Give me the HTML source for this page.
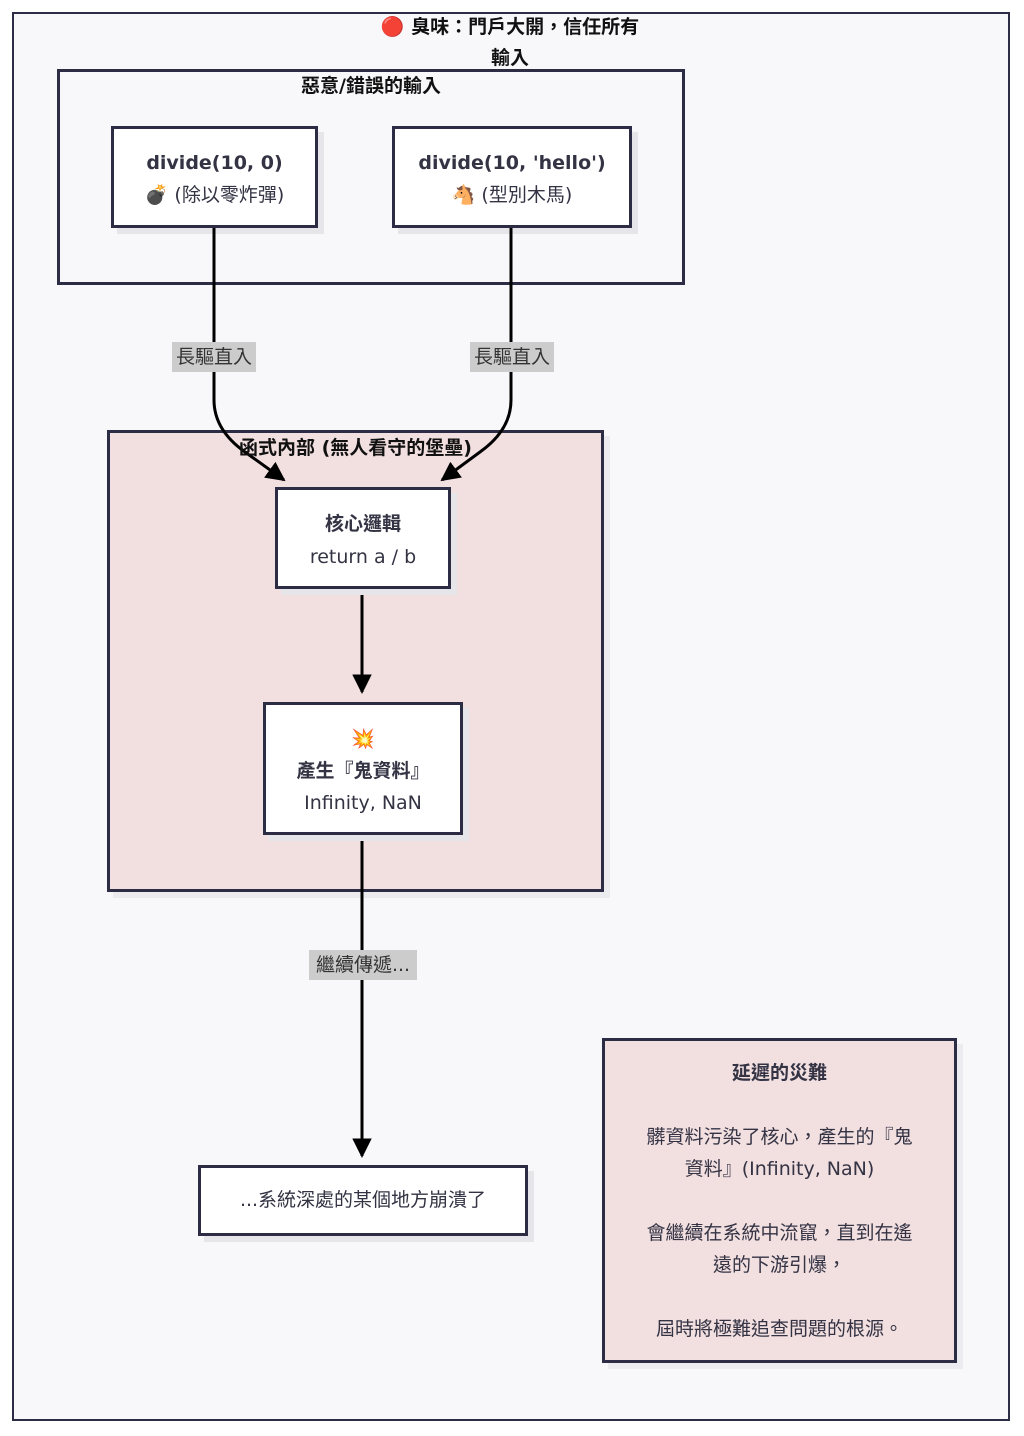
<!DOCTYPE html>
<html><head><meta charset="utf-8"><style>
body{margin:0;width:1024px;height:1436px;background:#fff;position:relative;font-family:"DejaVu Sans","Noto Sans CJK TC",sans-serif;color:#333}
.a{position:absolute;box-sizing:border-box}
.n{background:#fff;border:3px solid #2c2c44;box-shadow:6px 6px 0 #e6e6ea;text-align:center;font-size:19px;color:#333344;white-space:nowrap}
.b{font-weight:bold}
.lbl{position:absolute;background:#cccccc;font-size:19px;color:#333;text-align:center;line-height:30px;white-space:nowrap}
</style></head><body>
<div class="a" style="left:12px;top:12px;width:998px;height:1409px;border:2px solid #2c2c44;background:#f8f8fa"></div>
<div class="a b" style="left:330px;top:12px;width:360px;text-align:center;font-size:19px;line-height:31px;color:#111">🔴 臭味：門戶大開，信任所有<br>輸入</div>
<div class="a" style="left:57px;top:69px;width:628px;height:216px;border:3px solid #2c2c44;background:#f8f8fa"></div>
<div class="a b" style="left:57px;top:71px;width:628px;text-align:center;font-size:19px;color:#111">惡意/錯誤的輸入</div>
<div class="a n" style="left:111px;top:126px;width:207px;height:102px;padding-top:18px;line-height:32px"><span class="b">divide(10, 0)</span><br>💣 (除以零炸彈)</div>
<div class="a n" style="left:392px;top:126px;width:240px;height:102px;padding-top:18px;line-height:32px"><span class="b">divide(10, 'hello')</span><br>🐴 (型別木馬)</div>
<div class="a" style="left:107px;top:430px;width:497px;height:462px;border:3px solid #2c2c44;background:#f2dfe0;box-shadow:6px 6px 0 #ececf0"></div>
<svg class="a" style="left:0;top:0" width="1024" height="1436">
<defs><marker id="m" viewBox="0 0 10 10" refX="9" refY="5" markerWidth="6.5" markerHeight="6.5" orient="auto"><path d="M0,0L10,5L0,10z" fill="#000"/></marker></defs>
<g stroke="#000" stroke-width="3" fill="none">
<path d="M214,228V400Q214,430 245,452L284,480" marker-end="url(#m)"/>
<path d="M511,228V400Q511,430 480,452L442,480" marker-end="url(#m)"/>
<path d="M362,588V692" marker-end="url(#m)"/>
<path d="M362,835V1156" marker-end="url(#m)"/>
</g></svg>
<div class="a b" style="left:107px;top:433px;width:497px;text-align:center;font-size:19px;color:#111">函式內部 (無人看守的堡壘)</div>
<div class="lbl" style="left:172px;top:342px;width:84px">長驅直入</div>
<div class="lbl" style="left:470px;top:342px;width:84px">長驅直入</div>
<div class="lbl" style="left:309px;top:950px;width:108px">繼續傳遞...</div>
<div class="a n" style="left:275px;top:487px;width:176px;height:102px;padding-top:18px;line-height:33px"><span class="b">核心邏輯</span><br>return a / b</div>
<div class="a n" style="left:263px;top:702px;width:200px;height:133px;padding-top:18px;line-height:32px">💥<br><span class="b">產生『鬼資料』</span><br>Infinity, NaN</div>
<div class="a n" style="left:198px;top:1165px;width:330px;height:71px;line-height:65px">...系統深處的某個地方崩潰了</div>
<div class="a" style="left:602px;top:1038px;width:355px;height:325px;border:3px solid #2c2c44;background:#f2dfe0;box-shadow:6px 6px 0 #ececf0;text-align:center;font-size:19px;line-height:32px;padding-top:16px;color:#333344;white-space:nowrap"><span class="b">延遲的災難</span><br><br>髒資料污染了核心，產生的『鬼<br>資料』(Infinity, NaN)<br><br>會繼續在系統中流竄，直到在遙<br>遠的下游引爆，<br><br>屆時將極難追查問題的根源。</div>
</body></html>
